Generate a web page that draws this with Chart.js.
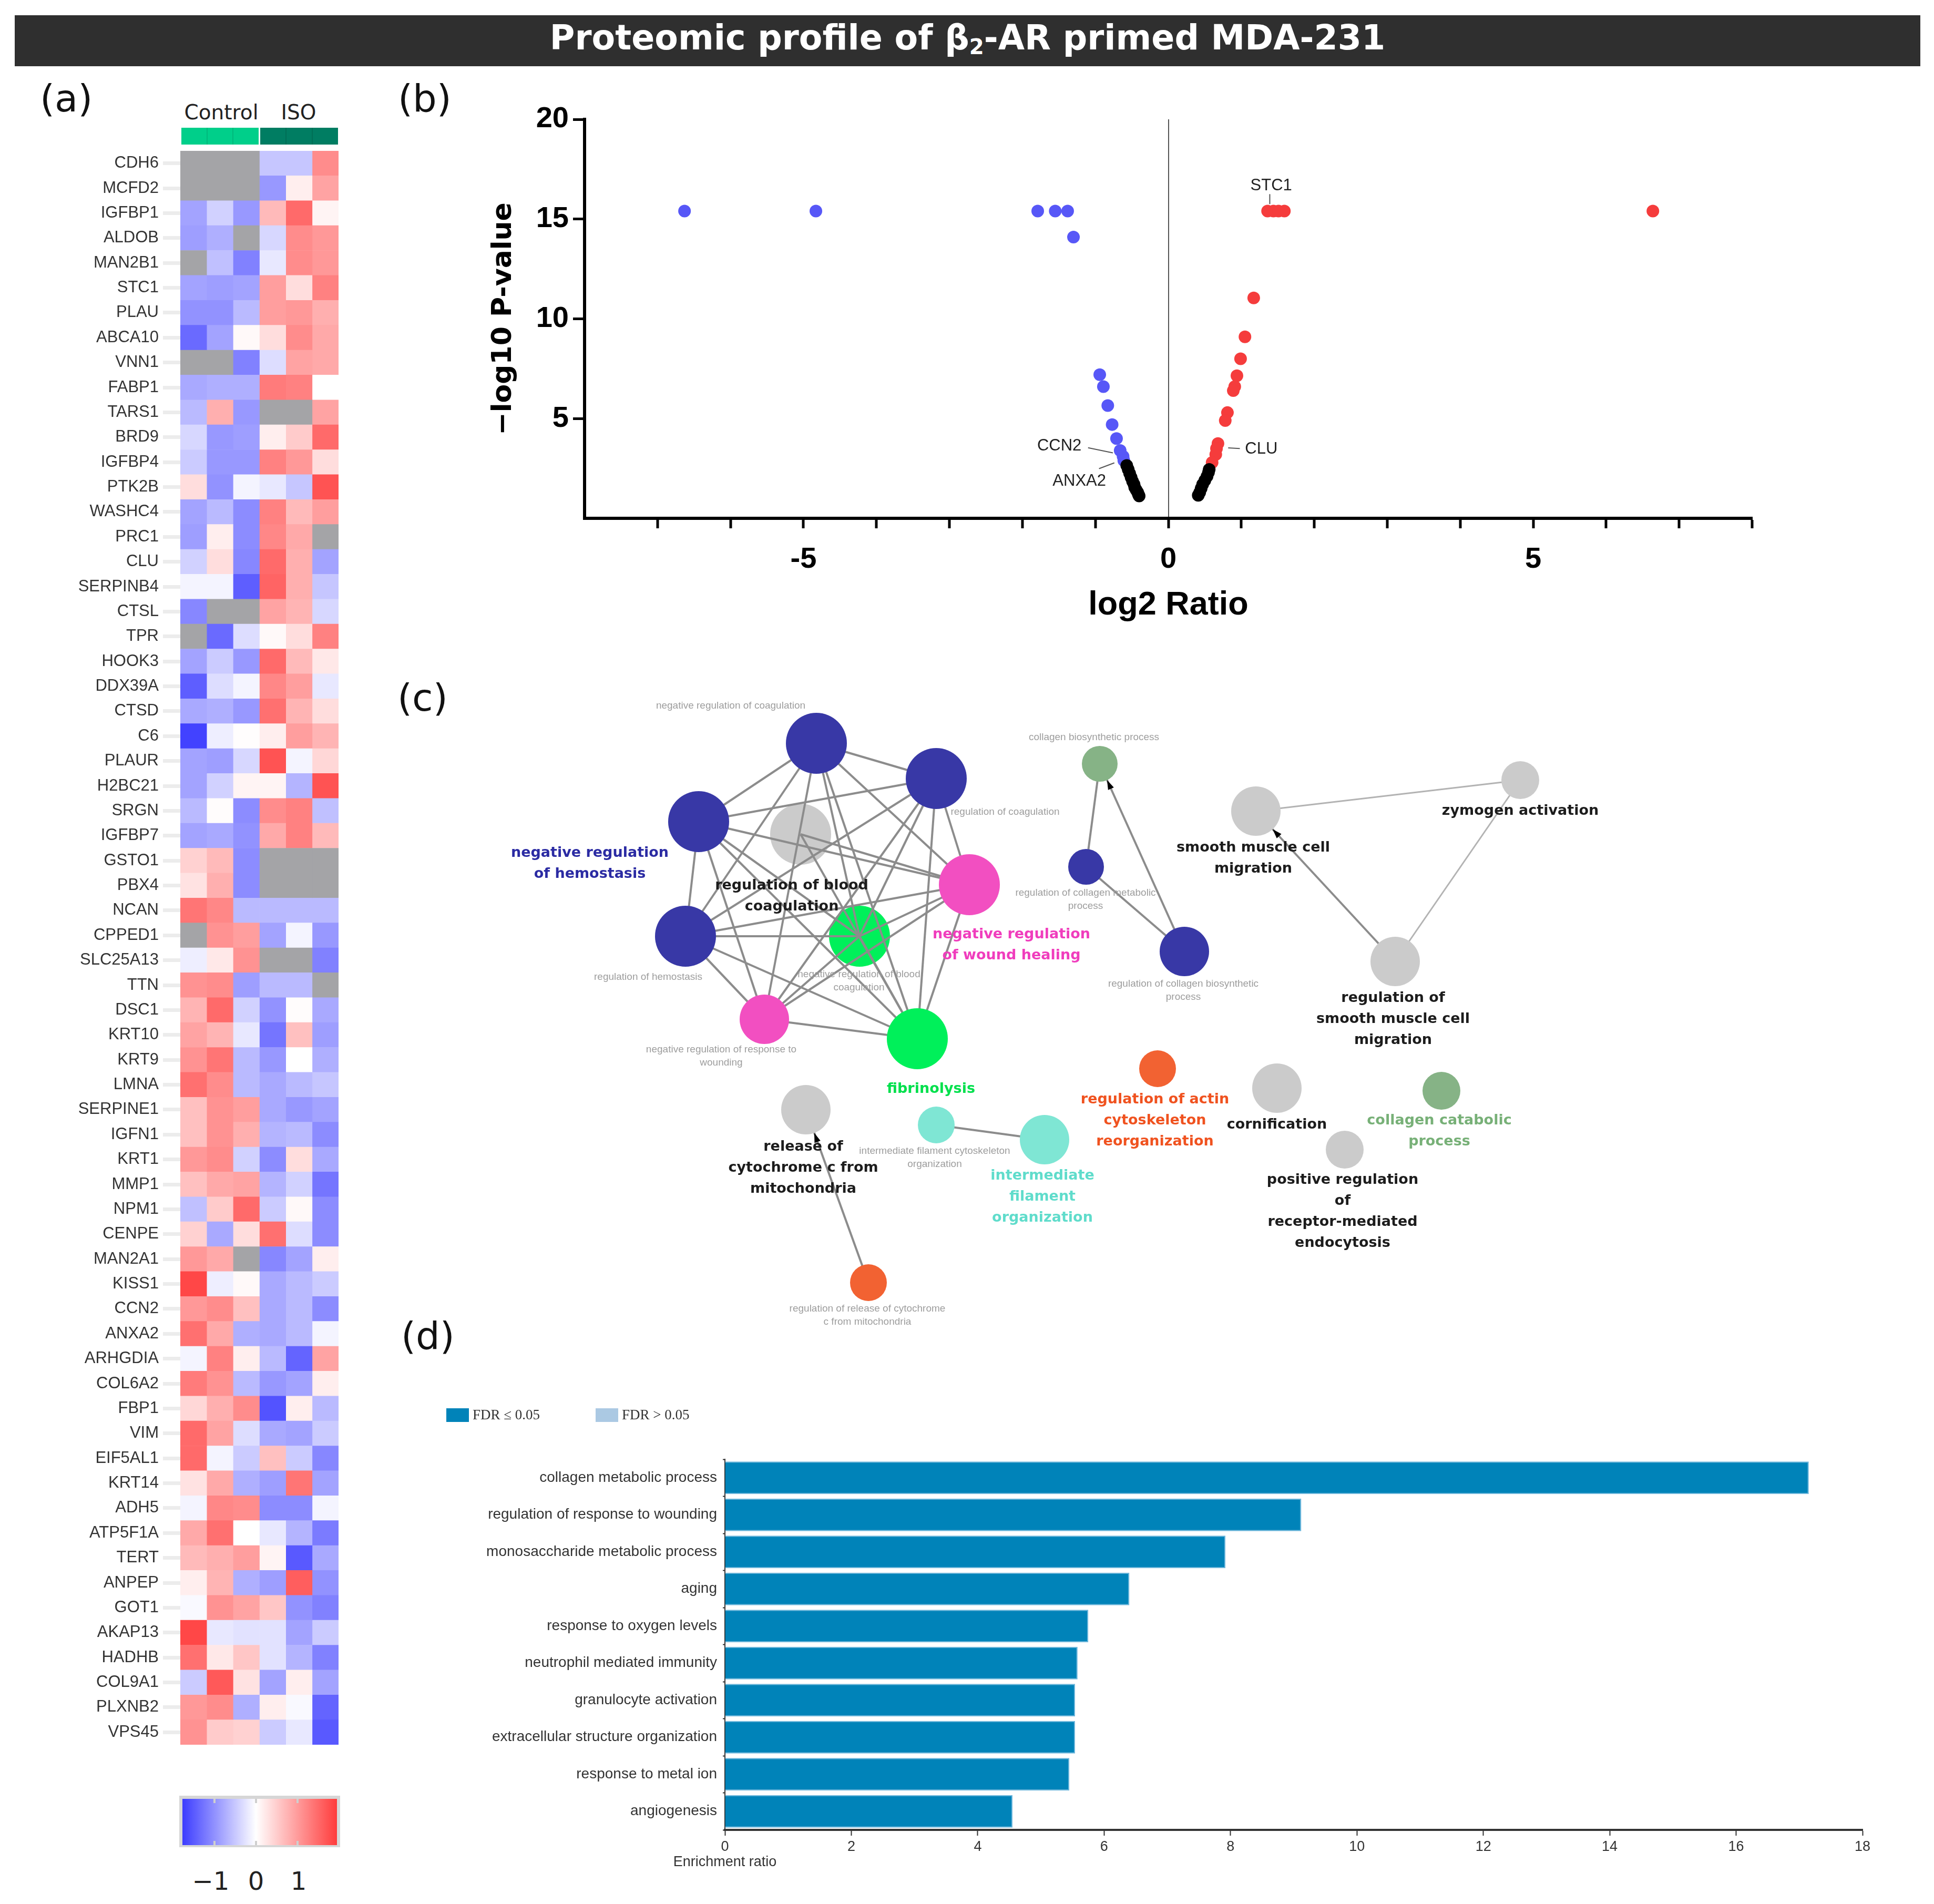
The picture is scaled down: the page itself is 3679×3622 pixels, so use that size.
<!DOCTYPE html>
<html>
<head>
<meta charset="utf-8">
<script src="https://cdn.jsdelivr.net/npm/chart.js@4.4.1/dist/chart.umd.min.js"></script>
<style>
body{margin:0;background:#fff;width:3679px;height:3622px;position:relative;overflow:hidden;font-family:'DejaVu Sans';}
.box{position:absolute;}
.plabel{position:absolute;font-family:'DejaVu Sans';font-size:72px;line-height:72px;color:#111;}
#title{position:absolute;left:28px;top:29px;width:3625px;height:97px;background:#2f2f2f;color:#fff;
  font:bold 65px 'DejaVu Sans';text-align:center;line-height:86px;white-space:nowrap;}
#title sub{font-size:0.62em;line-height:0;vertical-align:-0.22em;}
.grp{position:absolute;display:flex;gap:2px;}
.grp div{flex:1;}
.hlab{position:absolute;font:39px 'DejaVu Sans';line-height:39px;color:#222;transform:translateX(-50%);white-space:nowrap;}
.cb{position:absolute;font:48px 'DejaVu Sans';line-height:48px;color:#222;transform:translateX(-50%);}
.tk{position:absolute;width:4px;height:8px;background:#cfcfcf;}
</style>
</head>
<body>
<div id="title">Proteomic profile of β<sub>2</sub>-AR primed MDA-231</div>

<div class="plabel" style="left:76px;top:151px;">(a)</div>
<div class="plabel" style="left:757px;top:151px;">(b)</div>
<div class="plabel" style="left:756px;top:1291px;">(c)</div>
<div class="plabel" style="left:763px;top:2505px;">(d)</div>

<!-- heatmap column annotation -->
<div class="hlab" style="left:421px;top:194px;">Control</div>
<div class="hlab" style="left:568px;top:194px;">ISO</div>
<div class="grp" style="left:345px;top:243px;width:147px;height:32px;background:#00b97c;"><div style="background:#00cf8a"></div><div style="background:#00cf8a"></div><div style="background:#00cf8a"></div></div>
<div class="grp" style="left:495px;top:243px;width:148px;height:32px;background:#006e56;"><div style="background:#007d62"></div><div style="background:#007d62"></div><div style="background:#007d62"></div></div>

<div class="box" style="left:100px;top:287px;width:544px;height:3032px;"><canvas id="heat"></canvas></div>

<!-- colour key -->
<div class="box" style="left:341px;top:3416px;width:306px;height:98px;background:#d6d6d6;"></div>
<div class="box" style="left:347px;top:3422px;width:294px;height:88px;background:linear-gradient(to right,#3c3cff 0%,#ffffff 47.6%,#ff3c3c 100%);"></div>
<div class="tk" style="left:406px;top:3422px;"></div><div class="tk" style="left:485px;top:3422px;"></div><div class="tk" style="left:564px;top:3422px;"></div>
<div class="tk" style="left:406px;top:3502px;"></div><div class="tk" style="left:485px;top:3502px;"></div><div class="tk" style="left:564px;top:3502px;"></div>
<div class="cb" style="left:401px;top:3554px;">−1</div>
<div class="cb" style="left:487px;top:3554px;">0</div>
<div class="cb" style="left:568px;top:3554px;">1</div>

<div class="box" style="left:925px;top:180px;width:2415px;height:1009px;"><canvas id="volcano"></canvas></div>
<div class="box" style="left:760px;top:1300px;width:2540px;height:1260px;"><canvas id="network"></canvas></div>
<div class="box" style="left:839px;top:2669px;width:2721px;height:931px;"><canvas id="bars"></canvas></div>

<script>
// ---------- (a) heatmap data: z-scores per sample, null = not detected ----------
const genes = ['CDH6','MCFD2','IGFBP1','ALDOB','MAN2B1','STC1','PLAU','ABCA10',
  'VNN1','FABP1','TARS1','BRD9','IGFBP4','PTK2B','WASHC4','PRC1',
  'CLU','SERPINB4','CTSL','TPR','HOOK3','DDX39A','CTSD','C6',
  'PLAUR','H2BC21','SRGN','IGFBP7','GSTO1','PBX4','NCAN','CPPED1',
  'SLC25A13','TTN','DSC1','KRT10','KRT9','LMNA','SERPINE1','IGFN1',
  'KRT1','MMP1','NPM1','CENPE','MAN2A1','KISS1','CCN2','ANXA2',
  'ARHGDIA','COL6A2','FBP1','VIM','EIF5AL1','KRT14','ADH5','ATP5F1A',
  'TERT','ANPEP','GOT1','AKAP13','HADHB','COL9A1','PLXNB2','VPS45'];
const samples = ['Control 1','Control 2','Control 3','ISO 1','ISO 2','ISO 3'];
const ctrl1 = [null,null,-0.8,-0.85,null,-0.8,-0.95,-1.3,
  null,-0.75,-0.6,-0.35,-0.45,0.3,-0.8,-0.85,
  -0.4,-0.1,-1.05,null,-0.8,-1.4,-0.75,-1.65,
  -0.8,-0.8,-0.6,-0.8,0.4,0.25,1.2,null,
  -0.15,0.95,0.65,0.8,0.95,1.25,0.55,0.55,
  0.9,0.55,-0.55,0.4,0.9,1.6,0.9,1.25,
  -0.1,1.15,0.35,1.3,1.3,0.25,-0.1,0.75,
  0.6,0.15,-0.05,1.6,1.25,-0.45,0.9,0.95];
const ctrl2 = [null,null,-0.4,-0.7,-0.55,-0.85,-0.95,-0.8,
  null,-0.7,0.7,-0.9,-0.9,-0.95,-0.6,0.15,
  0.3,-0.1,null,-1.3,-0.45,-0.3,-0.7,-0.15,
  -0.85,-0.4,0.03,-0.75,0.6,0.7,1.05,0.95,
  0.2,1.0,1.3,0.65,1.2,1.0,0.95,0.95,
  1.0,0.75,0.45,-0.75,0.75,-0.15,1.0,0.75,
  1.1,0.95,0.7,0.8,-0.1,0.75,1.05,1.25,
  0.7,0.65,0.95,-0.2,0.2,1.45,1.0,0.45];
const ctrl3 = [null,null,-0.9,null,-1.1,-0.8,-0.6,0.05,
  -1.1,-0.7,-0.9,-0.85,-0.9,-0.1,-1.0,-1.0,
  -1.05,-1.4,null,-0.3,-0.9,-0.1,-0.9,0.02,
  -0.35,0.1,-1.0,-0.95,-1.0,-1.0,-0.6,0.85,
  0.95,-0.85,-0.4,-0.2,-0.6,-0.6,0.85,0.7,
  -0.4,0.8,1.3,0.3,null,0.05,0.55,-0.7,
  0.15,-0.6,1.0,-0.3,-0.45,-0.7,1.0,0.0,
  0.85,-0.7,0.8,-0.25,0.5,0.25,-0.7,0.4];
const iso1 = [-0.5,-0.9,0.6,-0.35,-0.2,0.85,0.85,0.3,
  -0.3,1.15,null,0.15,1.1,-0.2,1.1,1.05,
  1.3,1.35,0.8,0.05,1.3,1.05,1.25,0.15,
  1.5,0.1,1.0,0.75,null,null,-0.6,-0.8,
  null,-0.6,-0.95,-1.2,-0.9,-0.75,-0.75,-0.65,
  -1.0,-0.65,-0.45,1.25,-1.05,-0.75,-0.75,-0.75,
  -0.6,-0.9,-1.5,-0.75,0.55,-0.85,-1.0,-0.2,
  0.1,-0.85,0.5,-0.25,-0.25,-0.8,0.15,-0.45];
const iso2 = [-0.5,0.15,1.3,1.0,1.0,0.3,0.9,1.0,
  0.8,1.1,null,0.45,0.9,-0.5,0.6,0.75,
  0.7,0.7,0.65,0.3,0.6,0.85,0.65,0.85,
  -0.1,-0.65,1.1,1.1,null,null,-0.6,-0.1,
  null,-0.6,0.03,0.55,0.0,-0.6,-0.9,-0.6,
  0.3,-0.4,0.05,-0.3,-0.8,-0.6,-0.6,-0.6,
  -1.35,-0.8,0.15,-0.8,-0.45,1.2,-1.0,-0.65,
  -1.45,1.4,-0.95,-0.8,-0.65,0.15,-0.05,-0.2];
const iso3 = [1.0,0.8,0.1,0.9,0.9,1.1,0.7,0.75,
  0.75,0.0,0.8,1.3,0.3,1.5,0.85,null,
  -0.8,-0.5,-0.35,1.1,0.2,-0.2,0.3,0.65,
  0.35,1.5,-0.55,0.6,null,null,-0.6,-0.9,
  -1.1,null,-0.75,-0.85,-0.7,-0.5,-0.8,-1.0,
  -0.75,-1.2,-1.0,-1.0,0.15,-0.45,-1.0,-0.1,
  0.8,0.15,-0.6,-0.45,-1.05,-0.8,-0.1,-1.15,
  -0.75,-0.95,-1.1,-0.45,-1.1,-0.8,-1.35,-1.45];

// ---------- (b) volcano data ----------
const downX = [-6.63,-4.83,-1.79,-1.55,-1.38,-1.30,-0.94,-0.89,-0.83,-0.77,-0.71,-0.66,-0.62,-0.61];
const downY = [15.4,15.4,15.4,15.4,15.4,14.1,7.2,6.6,5.65,4.7,4.0,3.4,3.1,2.9];
const upX = [1.36,1.44,1.51,1.59,6.64,1.17,1.05,0.99,0.94,0.91,0.89,0.81,0.78,0.68,0.66,0.65,0.60];
const upY = [15.4,15.4,15.4,15.4,15.4,11.05,9.1,8.0,7.15,6.6,6.4,5.3,4.9,3.75,3.5,3.2,2.8];
const nsX = [-0.57,-0.55,-0.53,-0.51,-0.49,-0.47,-0.46,-0.44,-0.42,-0.41,-0.40,
  0.56,0.55,0.53,0.50,0.47,0.45,0.43,0.41];
const nsY = [2.65,2.45,2.25,2.05,1.85,1.7,1.55,1.42,1.3,1.2,1.12,
  2.45,2.3,2.1,1.9,1.7,1.5,1.3,1.15];
const volcanoNotes = [
  {text:'STC1', x:1.41, y:16.68, align:'center', from:[1.39,16.25], to:[1.39,15.75]},
  {text:'CLU', x:1.05, y:3.46, align:'left', from:[0.82,3.53], to:[0.98,3.50]},
  {text:'CCN2', x:-1.19, y:3.62, align:'right', from:[-1.10,3.54], to:[-0.76,3.28]},
  {text:'ANXA2', x:-1.22, y:1.87, align:'center', from:[-0.95,2.49], to:[-0.74,2.78]}
];

// ---------- (c) GO term network (layout units) ----------
const nodeNames = ['negative regulation of coagulation','regulation of coagulation','negative regulation of hemostasis',
  'regulation of blood coagulation','negative regulation of wound healing','regulation of hemostasis',
  'negative regulation of blood coagulation','negative regulation of response to wounding','fibrinolysis',
  'collagen biosynthetic process','regulation of collagen metabolic process','regulation of collagen biosynthetic process',
  'release of cytochrome c from mitochondria','regulation of release of cytochrome c from mitochondria',
  'intermediate filament cytoskeleton organization','intermediate filament organization',
  'regulation of actin cytoskeleton reorganization','smooth muscle cell migration','zymogen activation',
  'regulation of smooth muscle cell migration','cornification','collagen catabolic process',
  'positive regulation of receptor-mediated endocytosis'];
const nodeX = [793,1021,569,763,1084,544,875,694,985,1332,1306,1493,773,892,1021,1227,1442,1629,2132,1894,1669,1982,1798];
const nodeY = [114,181,263,287,383,481,481,639,676,153,349,510,811,1140,840,868,733,243,184,529,770,775,887];
const nodeSize = [58,58,58,58,58,58,58,47,58,34,34,47,47,35,35,47,35,47,36,47,47,36,36];
const nodeGroup = ['hemo','hemo','hemo','gray','wound','hemo','fib','wound','fib','coll','hemo','hemo',
  'gray','actin','interm','interm','actin','gray','gray','gray','gray','coll','gray'];
const edgeFrom = [0,0,0,0,0,0,0, 1,1,1,1,1,1, 2,2,2,2,2, 4,4,4,4, 5,5,5, 6,6, 7, 3,3, 9,11,10,13,14,17,19,18];
const edgeTo   = [1,2,4,5,6,7,8, 2,4,5,6,7,8, 4,5,6,7,8, 5,6,7,8, 6,7,8, 7,8, 8, 4,8, 10,9,11,12,15,18,17,19];
const edgeArrow = [0,0,0,0,0,0,0, 0,0,0,0,0,0, 0,0,0,0,0, 0,0,0,0, 0,0,0, 0,0, 0, 0,0, 0,1,0,1,0,0,1,0];
const underEdges = [3,6];
const groupColor = {hemo:'#3838a6', gray:'#cbcbcb', wound:'#f24fc1', fib:'#00f05a', coll:'#86b386', actin:'#f26232', interm:'#7fe6d4'};
const labelColor = {hemo:'#2b2ba3', gray:'#1c1c1c', wound:'#f03dbd', fib:'#00e04c', coll:'#77b077', actin:'#f0521f', interm:'#5fdccb'};
const bigLabels = [
  {lines:['negative regulation','of hemostasis'], x:362, y:323, group:'hemo'},
  {lines:['regulation of blood','coagulation'], x:746, y:385, group:'gray'},
  {lines:['negative regulation','of wound healing'], x:1164, y:478, group:'wound'},
  {lines:['fibrinolysis'], x:1011, y:772, group:'fib'},
  {lines:['release of','cytochrome c from','mitochondria'], x:768, y:882, group:'gray'},
  {lines:['intermediate','filament','organization'], x:1223, y:937, group:'interm'},
  {lines:['regulation of actin','cytoskeleton','reorganization'], x:1437, y:792, group:'actin'},
  {lines:['smooth muscle cell','migration'], x:1624, y:313, group:'gray'},
  {lines:['zymogen activation'], x:2132, y:243, group:'gray'},
  {lines:['regulation of','smooth muscle cell','migration'], x:1890, y:599, group:'gray'},
  {lines:['cornification'], x:1669, y:840, group:'gray'},
  {lines:['collagen catabolic','process'], x:1978, y:832, group:'coll'},
  {lines:['positive regulation','of','receptor-mediated','endocytosis'], x:1794, y:945, group:'gray'}
];
const smallLabels = [
  {lines:['negative regulation of coagulation'], x:630, y:43},
  {lines:['regulation of coagulation'], x:1152, y:245},
  {lines:['collagen biosynthetic process'], x:1321, y:103},
  {lines:['regulation of collagen metabolic','process'], x:1305, y:399},
  {lines:['regulation of collagen biosynthetic','process'], x:1491, y:572},
  {lines:['regulation of hemostasis'], x:473, y:559},
  {lines:['negative regulation of blood','coagulation'], x:874, y:554},
  {lines:['negative regulation of response to','wounding'], x:612, y:697},
  {lines:['intermediate filament cytoskeleton','organization'], x:1018, y:890},
  {lines:['regulation of release of cytochrome','c from mitochondria'], x:890, y:1190}
];

// ---------- (d) enrichment ----------
const terms = ['collagen metabolic process','regulation of response to wounding','monosaccharide metabolic process',
  'aging','response to oxygen levels','neutrophil mediated immunity','granulocyte activation',
  'extracellular structure organization','response to metal ion','angiogenesis'];
const enrichment = [17.15,9.12,7.92,6.40,5.75,5.58,5.54,5.54,5.45,4.55];
const fdrLegend = ['FDR ≤ 0.05','FDR > 0.05'];
const fdrColors = ['#0083b9','#abc9e3'];

Chart.defaults.animation = false;
Chart.defaults.responsive = true;
Chart.defaults.maintainAspectRatio = false;
Chart.defaults.devicePixelRatio = 1;
Chart.defaults.events = [];
Chart.defaults.font.family = 'Liberation Sans';
Chart.defaults.plugins.legend.display = false;
Chart.defaults.plugins.tooltip.enabled = false;

// ---- heatmap
function heatColor(v){
  if (v === null) return '#a4a4a7';
  const t = Math.min(1, Math.abs(v) / 1.7);
  const c = Math.round(255 - t * 195);
  return v < 0 ? 'rgb(' + c + ',' + c + ',255)' : 'rgb(255,' + c + ',' + c + ')';
}
const columns = [ctrl1, ctrl2, ctrl3, iso1, iso2, iso3];
new Chart(document.getElementById('heat'), {
  type: 'bar',
  data: {
    labels: genes,
    datasets: columns.map((col, j) => ({
      label: samples[j],
      data: col.map(() => [j, j + 1]),
      backgroundColor: col.map(heatColor),
      borderWidth: 0, barPercentage: 1, categoryPercentage: 1, grouped: false
    }))
  },
  options: {
    indexAxis: 'y',
    layout: {padding: 0, autoPadding: false},
    scales: {
      x: {type: 'linear', min: 0, max: 6, display: false},
      y: {
        ticks: {font: {size: 31}, color: '#333', padding: 8, autoSkip: false},
        grid: {offset: false, drawOnChartArea: false, tickLength: 33, tickWidth: 7, tickColor: '#ececec'},
        border: {display: false},
        afterFit(s){ s.width = 243; s.paddingTop = 0; s.paddingBottom = 0; }
      }
    }
  }
});

// ---- volcano
const pts = (xs, ys) => xs.map((v, i) => ({x: v, y: ys[i]}));
const volcanoText = {
  id: 'volcanoText',
  afterDatasetsDraw(chart){
    const {ctx, scales: {x, y}} = chart;
    ctx.save();
    ctx.font = '31px "Liberation Sans"';
    ctx.fillStyle = '#222';
    ctx.strokeStyle = '#555';
    ctx.lineWidth = 2;
    ctx.textBaseline = 'middle';
    volcanoNotes.forEach(n => {
      ctx.textAlign = n.align;
      ctx.fillText(n.text, x.getPixelForValue(n.x), y.getPixelForValue(n.y));
      ctx.beginPath();
      ctx.moveTo(x.getPixelForValue(n.from[0]), y.getPixelForValue(n.from[1]));
      ctx.lineTo(x.getPixelForValue(n.to[0]), y.getPixelForValue(n.to[1]));
      ctx.stroke();
    });
    ctx.restore();
  }
};
new Chart(document.getElementById('volcano'), {
  type: 'scatter',
  data: {datasets: [
    {label: 'not significant', data: pts(nsX, nsY), backgroundColor: '#000', pointRadius: 12, borderWidth: 0},
    {label: 'down', data: pts(downX, downY), backgroundColor: '#5757f7', pointRadius: 12, borderWidth: 0},
    {label: 'up', data: pts(upX, upY), backgroundColor: '#f53c3c', pointRadius: 12, borderWidth: 0}
  ]},
  options: {
    layout: {padding: {top: 47, right: 7}, autoPadding: false},
    scales: {
      x: {
        type: 'linear', min: -8, max: 8,
        ticks: {stepSize: 1, font: {size: 56, weight: 'bold'}, color: '#000', padding: 26,
          callback: v => (v % 5 === 0 ? v : '')},
        grid: {color: c => (c.tick && c.tick.value === 0 ? '#555' : 'transparent'), lineWidth: 2,
          tickLength: 19, tickWidth: 5, tickColor: c => (c.tick && c.tick.value === -8 ? 'transparent' : '#000')},
        border: {color: '#000', width: 6},
        title: {display: true, text: 'log2 Ratio', font: {size: 63, weight: 'bold'}, color: '#000', padding: 0},
        afterFit(s){ s.height = 203; s.paddingLeft = 0; s.paddingRight = 0; }
      },
      y: {
        min: 0, max: 20,
        ticks: {stepSize: 5, font: {size: 56, weight: 'bold'}, color: '#000', padding: 8,
          callback: v => (v === 0 ? '' : v)},
        grid: {drawOnChartArea: false, tickLength: 22, tickWidth: 5,
          tickColor: c => (c.tick && c.tick.value === 0 ? 'transparent' : '#000')},
        border: {color: '#000', width: 6},
        title: {display: true, text: '−log10 P-value', font: {family: 'DejaVu Sans', size: 52, weight: 'bold'},
          color: '#000', padding: {top: 2, bottom: 0}},
        afterFit(s){ s.width = 187; }
      }
    }
  },
  plugins: [volcanoText]
});

// ---- network
const netText = {
  id: 'netText',
  afterDatasetsDraw(chart){
    const {ctx, scales: {x, y}} = chart;
    ctx.save();
    // arrow heads
    ctx.fillStyle = '#000';
    edgeFrom.forEach((a, i) => {
      if (!edgeArrow[i]) return;
      const b = edgeTo[i];
      const sx = x.getPixelForValue(nodeX[a]), sy = y.getPixelForValue(nodeY[a]);
      const tx = x.getPixelForValue(nodeX[b]), ty = y.getPixelForValue(nodeY[b]);
      const len = Math.hypot(tx - sx, ty - sy), dx = (tx - sx) / len, dy = (ty - sy) / len;
      const px = tx - dx * nodeSize[b], py = ty - dy * nodeSize[b];
      ctx.beginPath();
      ctx.moveTo(px, py);
      ctx.lineTo(px - dx * 18 - dy * 6, py - dy * 18 + dx * 6);
      ctx.lineTo(px - dx * 18 + dy * 6, py - dy * 18 - dx * 6);
      ctx.closePath();
      ctx.fill();
    });
    ctx.textAlign = 'center';
    ctx.textBaseline = 'middle';
    ctx.font = '19px "Liberation Sans"';
    ctx.fillStyle = '#9d9d9d';
    smallLabels.forEach(l => l.lines.forEach((t, i) =>
      ctx.fillText(t, x.getPixelForValue(l.x), y.getPixelForValue(l.y) + i * 25)));
    ctx.font = 'bold 27px "DejaVu Sans"';
    bigLabels.forEach(l => {
      ctx.fillStyle = labelColor[l.group];
      l.lines.forEach((t, i) => ctx.fillText(t, x.getPixelForValue(l.x), y.getPixelForValue(l.y) + i * 40));
    });
    ctx.restore();
  }
};
const nodePts = idx => idx.map(i => ({x: nodeX[i], y: nodeY[i]}));
const allIdx = nodeNames.map((n, i) => i);
const backIdx = allIdx.filter(i => underEdges.includes(i));
const frontIdx = allIdx.filter(i => !underEdges.includes(i));
const netSets = [
  {label: 'nodes', data: nodePts(frontIdx), pointRadius: frontIdx.map(i => nodeSize[i]),
    backgroundColor: frontIdx.map(i => groupColor[nodeGroup[i]]), borderWidth: 0, order: 1},
  {label: 'nodes under', data: nodePts(backIdx), pointRadius: backIdx.map(i => nodeSize[i]),
    backgroundColor: backIdx.map(i => groupColor[nodeGroup[i]]), borderWidth: 0, order: 3}
];
edgeFrom.forEach((a, i) => {
  const b = edgeTo[i];
  const faint = a === 18 || b === 18;
  netSets.push({label: nodeNames[a] + ' - ' + nodeNames[b], data: nodePts([a, b]), showLine: true,
    borderColor: faint ? '#b3b3b3' : '#8c8c8c', borderWidth: faint ? 3 : 4, pointRadius: 0, order: 2});
});
new Chart(document.getElementById('network'), {
  type: 'scatter',
  data: {datasets: netSets},
  options: {
    layout: {padding: 0, autoPadding: false},
    scales: {
      x: {type: 'linear', min: 0, max: 2540, display: false},
      y: {type: 'linear', min: 0, max: 1260, reverse: true, display: false}
    }
  },
  plugins: [netText]
});

// ---- enrichment bars
const barExtras = {
  id: 'barExtras',
  afterDraw(chart){
    const {ctx, chartArea, scales: {x}} = chart;
    ctx.save();
    ctx.font = '27px "Liberation Serif"';
    ctx.textBaseline = 'middle';
    ctx.textAlign = 'left';
    const boxX = [10, 294];
    fdrLegend.forEach((t, i) => {
      ctx.fillStyle = fdrColors[i];
      ctx.fillRect(boxX[i], 10, 43, 26);
      ctx.fillStyle = '#333';
      ctx.fillText(t, boxX[i] + 50, 24);
    });
    ctx.font = '27px "Liberation Sans"';
    ctx.textAlign = 'center';
    ctx.fillText('Enrichment ratio', x.getPixelForValue(0), chartArea.bottom + 62);
    ctx.restore();
  }
};
new Chart(document.getElementById('bars'), {
  type: 'bar',
  data: {labels: terms, datasets: [{label: fdrLegend[0], data: enrichment, backgroundColor: fdrColors[0],
    barPercentage: 0.88, categoryPercentage: 1, borderWidth: 2, borderColor: '#6db6dc', borderSkipped: 'start'}]},
  options: {
    indexAxis: 'y',
    layout: {padding: {top: 107, right: 17}},
    scales: {
      x: {min: 0, max: 18,
        ticks: {stepSize: 2, font: {size: 27}, color: '#333', padding: 5},
        grid: {drawOnChartArea: false, tickLength: 11, tickColor: '#333', tickWidth: 2},
        border: {color: '#333', width: 4},
        afterFit(s){ s.height = 119; s.paddingRight = 0; }},
      y: {ticks: {font: {size: 28}, color: '#333', padding: 11},
        grid: {drawOnChartArea: false, offset: true, tickLength: 4, tickColor: '#333', tickWidth: 2},
        border: {color: '#333', width: 2},
        afterFit(s){ s.width = 540; s.paddingTop = 0; s.paddingBottom = 0; }}
    }
  },
  plugins: [barExtras]
});
</script>
</body>
</html>
